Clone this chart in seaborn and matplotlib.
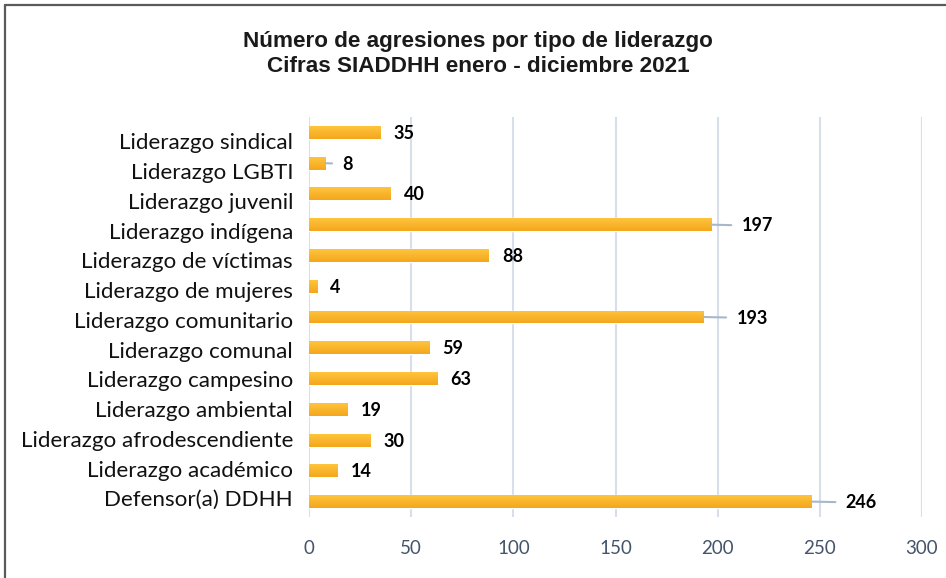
import matplotlib
matplotlib.use("Agg")
import matplotlib.pyplot as plt
from matplotlib.lines import Line2D
import numpy as np
import pandas as pd
import seaborn as sns

# Data: aggressions by leadership type (SIADDHH, Jan-Dec 2021), top to bottom
categories = [
    "Liderazgo sindical",
    "Liderazgo LGBTI",
    "Liderazgo juvenil",
    "Liderazgo indígena",
    "Liderazgo de víctimas",
    "Liderazgo de mujeres",
    "Liderazgo comunitario",
    "Liderazgo comunal",
    "Liderazgo campesino",
    "Liderazgo ambiental",
    "Liderazgo afrodescendiente",
    "Liderazgo académico",
    "Defensor(a) DDHH",
]
values = [35, 8, 40, 197, 88, 4, 193, 59, 63, 19, 30, 14, 246]
x_ticks = [0, 50, 100, 150, 200, 250, 300]
title_lines = ["Número de agresiones por tipo de liderazgo",
               "Cifras SIADDHH enero - diciembre 2021"]

# Labels that sit farther out, joined to their bar with a leader line (length in px)
leader_px = {"Liderazgo LGBTI": 10, "Liderazgo indígena": 23,
             "Liderazgo comunitario": 26, "Defensor(a) DDHH": 27}

df = pd.DataFrame({"categoria": categories, "valor": values})

sns.set_theme(style="white")
plt.rcParams["font.family"] = ["Lato", "DejaVu Sans"]

W, H = 946, 578
fig = plt.figure(figsize=(W / 100, H / 100), dpi=100)
ax = fig.add_axes([309 / W, 1 - 517 / H, (922 - 309) / W, (517 - 117) / H])

sns.barplot(data=df, x="valor", y="categoria", orient="h", color="#FBB42A",
            width=0.42, ax=ax, zorder=3, saturation=1)

ax.set_xlim(0, 300)
ax.set_xticks(x_ticks)
ax.set_xticklabels([str(t) for t in x_ticks])
ax.grid(axis="x", color="#D7E0EA", linewidth=1.5, zorder=0)
ax.grid(axis="y", visible=False)
ax.set_axisbelow(True)
for s in ax.spines.values():
    s.set_visible(False)
ax.set_xlabel("")
ax.set_ylabel("")
ax.tick_params(axis="x", length=0, pad=16.5, labelsize=13.5, labelcolor="#44546A")
ax.tick_params(axis="y", length=0, pad=11.5, labelsize=16.1, labelcolor="#111111")

# Category labels run on a slightly tighter pitch than the bars
n = len(categories)
label_pos = [0.29 + 0.967 * i for i in range(n)]
ax.set_yticks(label_pos)
ax.set_yticklabels(categories)

# Vertical gradient fill on each bar (lighter top, deeper bottom)
grad = np.linspace(0, 1, 64).reshape(-1, 1)
cmap = matplotlib.colors.LinearSegmentedColormap.from_list("g", ["#FFC53D", "#F3A61C"])
for p in ax.patches:
    x0, y0 = p.get_x(), p.get_y()
    w, h = p.get_width(), p.get_height()
    im = ax.imshow(grad, extent=[x0, x0 + w, y0 + h, y0], cmap=cmap,
                   aspect="auto", zorder=3.5, origin="upper")
    im.set_clip_path(p)
ax.set_xlim(0, 300)
ax.set_ylim(n - 0.5, -0.5)

# Value labels
for i, (cat, v) in enumerate(zip(categories, values)):
    if cat in leader_px:
        L = leader_px[cat]
        ax.annotate(str(v), xy=(v, i), xytext=(L + 7, -1), textcoords="offset pixels",
                    ha="left", va="center", fontsize=13, fontweight="bold",
                    color="black", zorder=5,
                    arrowprops=dict(arrowstyle="-", color="#A9B8C8", lw=1.5,
                                    shrinkA=5, shrinkB=0))
    else:
        ax.annotate(str(v), xy=(v, i), xytext=(13, -1), textcoords="offset pixels",
                    ha="left", va="center", fontsize=13, fontweight="bold",
                    color="black", zorder=5)

# Title
for k, line in enumerate(title_lines):
    fig.text(478 / W, 1 - (42 + 25 * k) / H, line, ha="center", va="center",
             fontsize=16.2, fontweight="bold", color="#1A1A1A",
             family=["Liberation Sans", "DejaVu Sans"])

# Frame edges along the top and left
fig.add_artist(Line2D([5 / W, 5 / W], [0, 1 - 5 / H], transform=fig.transFigure,
                      color="#5A5A5A", linewidth=1.6))
fig.add_artist(Line2D([5 / W, 1], [1 - 5 / H, 1 - 5 / H], transform=fig.transFigure,
                      color="#5A5A5A", linewidth=1.6))

fig.savefig("out.png", dpi=100)
